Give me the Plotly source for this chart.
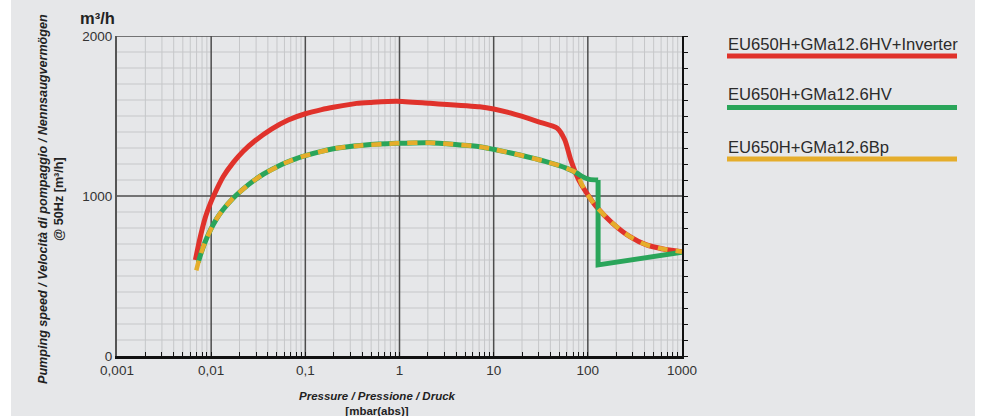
import plotly.graph_objects as go

# ---------------- data ----------------
series_names = ["EU650H+GMa12.6HV+Inverter", "EU650H+GMa12.6HV", "EU650H+GMa12.6Bp"]
series_colors = ["#e0322b", "#2aa55a", "#e5ad2b"]

red_p = [0.0068, 0.0076, 0.0086, 0.0099, 0.0106, 0.0134, 0.0172, 0.0219, 0.0292, 0.0437, 0.0658, 0.1,
         0.149, 0.205, 0.35, 0.5, 0.93, 2.1, 7.1, 10, 15, 30, 47, 57, 66, 80, 97, 123, 182, 280, 420,
         630, 1000]
red_v = [600, 735, 860, 960, 1000, 1120, 1210, 1280, 1345, 1418, 1475, 1514,
         1540, 1556, 1579, 1585, 1592, 1579, 1558, 1544, 1519, 1464, 1425, 1350, 1225, 1100, 1019, 933,
         831, 746, 694, 669, 652]

common_p = [0.0076, 0.0086, 0.0099, 0.0114, 0.0134, 0.0172, 0.0238, 0.028, 0.0357, 0.056, 0.0713, 0.1,
            0.205, 0.41, 0.93, 2.1, 7.1, 9.9, 19, 36, 60, 77]
common_v = [621, 711, 791, 857, 916, 988, 1062, 1094, 1136, 1197, 1223, 1252,
            1297, 1317, 1329, 1333, 1308, 1292, 1256, 1215, 1173, 1142]

# green: smooth curve up to the switch point, then a straight drop and a straight line to 1000 mbar
green_curve_p = [0.0073] + common_p + [88, 104, 128.5]
green_curve_v = [585] + common_v + [1121, 1104, 1100]
green_tail_p = [128.5, 128.5, 1000]
green_tail_v = [1100, 569, 648]

yellow_p = [0.00695] + common_p + [85, 97, 123, 182, 280, 420, 630, 1000]
yellow_v = [535] + common_v + [1080, 1019, 933, 831, 746, 694, 669, 652]

x_decades = [0.001, 0.01, 0.1, 1, 10, 100, 1000]
x_labels = ["0,001", "0,01", "0,1", "1", "10", "100", "1000"]
y_major = [0, 1000, 2000]

# ---------------- layout constants ----------------
W, H = 992, 416
L, R, T, B = 117, 682, 36, 356
PW, PH = R - L, B - T
FONT = "Liberation Sans, Arial, sans-serif"
BG = "#e6e7e9"
MINOR = "#c6c7c9"
MAJOR = "#4d4d4d"


def px(xp):
    return (xp - L) / PW


def py(yp):
    return (B - yp) / PH


x_ticks = []
for d in x_decades[:-1]:
    for k in range(1, 10):
        x_ticks.append(round(k * d, 6))
x_ticks.append(x_decades[-1])
x_text = [x_labels[x_decades.index(v)] if v in x_decades else "" for v in x_ticks]

y_ticks = list(range(0, 2001, 100))
y_text = [str(v) if v in y_major else "" for v in y_ticks]

fig = go.Figure()
fig.add_trace(go.Scatter(x=red_p, y=red_v, mode="lines", name=series_names[0],
                         line=dict(color=series_colors[0], width=5, shape="spline", smoothing=0.6)))
fig.add_trace(go.Scatter(x=green_curve_p, y=green_curve_v, mode="lines", name=series_names[1],
                         line=dict(color=series_colors[1], width=5, shape="spline", smoothing=0.5)))
fig.add_trace(go.Scatter(x=green_tail_p, y=green_tail_v, mode="lines", name=series_names[1],
                         line=dict(color=series_colors[1], width=5)))
fig.add_trace(go.Scatter(x=yellow_p, y=yellow_v, mode="lines", name=series_names[2],
                         line=dict(color=series_colors[2], width=4.5, dash="10px,8px",
                                   shape="spline", smoothing=0.6)))
fig.add_trace(go.Scatter(x=[], y=[], yaxis="y2", showlegend=False))

shapes = []
# gray panel background
shapes.append(dict(type="rect", xref="paper", yref="paper", x0=px(11), x1=px(975), y0=py(H + 5), y1=py(-5),
                   fillcolor=BG, line=dict(width=0), layer="below"))
# minor grid lines
for v in x_ticks:
    if v not in x_decades:
        shapes.append(dict(type="line", xref="x", yref="y", x0=v, x1=v, y0=0, y1=2000,
                           line=dict(color=MINOR, width=1), layer="below"))
for v in y_ticks:
    if v not in y_major:
        shapes.append(dict(type="line", xref="x", yref="y", x0=x_decades[0], x1=x_decades[-1], y0=v, y1=v,
                           line=dict(color=MINOR, width=1), layer="below"))
# major grid lines
for d in x_decades[1:-1]:
    shapes.append(dict(type="line", xref="x", yref="y", x0=d, x1=d, y0=0, y1=2000,
                       line=dict(color=MAJOR, width=1.5), layer="below"))
for v in y_major[1:]:
    shapes.append(dict(type="line", xref="x", yref="y", x0=x_decades[0], x1=x_decades[-1], y0=v, y1=v,
                       line=dict(color=MAJOR, width=1.5), layer="below"))

annotations = []
# legend
legend_text_y = [44, 95, 147]
legend_line_y = [56, 107.5, 159]
for name, col, ty, ly in zip(series_names, series_colors, legend_text_y, legend_line_y):
    annotations.append(dict(xref="paper", yref="paper", x=px(726), y=py(ty), xanchor="left", yanchor="middle",
                            text=name, showarrow=False, font=dict(family=FONT, size=16.6, color="#2b2b2b")))
    shapes.append(dict(type="line", xref="paper", yref="paper", x0=px(727), x1=px(957), y0=py(ly), y1=py(ly),
                       line=dict(color=col, width=5)))

annotations.append(dict(xref="paper", yref="paper", x=px(97), y=py(18), xanchor="center", yanchor="middle",
                        text="<b>m³/h</b>", showarrow=False, font=dict(family=FONT, size=16.5, color="#222")))
annotations.append(dict(xref="paper", yref="paper", x=px(51), y=py(199), xanchor="center", yanchor="middle",
                        textangle=-90, showarrow=False,
                        text="<b><i>Pumping speed / Velocità di pompaggio / Nennsaugvermögen</i><br>@ 50Hz [m³/h]</b>",
                        font=dict(family=FONT, size=12.6, color="#222")))
annotations.append(dict(xref="paper", yref="paper", x=px(377), y=py(388), xanchor="center", yanchor="top",
                        showarrow=False,
                        text="<b><i>Pressure / Pressione / Druck</i></b><br><b>[mbar(abs)]</b>",
                        font=dict(family=FONT, size=11.5, color="#222")))

fig.update_layout(
    width=W, height=H,
    margin=dict(l=L, r=W - R, t=T, b=H - B, pad=0),
    paper_bgcolor="white", plot_bgcolor="rgba(0,0,0,0)",
    showlegend=False,
    font=dict(family=FONT, color="#333"),
    xaxis=dict(type="log", range=[-3, 3], tickmode="array", tickvals=x_ticks, ticktext=x_text,
               showgrid=False,
               ticks="inside", ticklen=4, tickcolor="#111", tickwidth=1,
               showline=True, linecolor="#111", linewidth=3,
               tickfont=dict(family=FONT, size=13.5, color="#333"), zeroline=False),
    yaxis=dict(range=[0, 2000], tickmode="array", tickvals=y_ticks, ticktext=y_text,
               showgrid=False, ticks="",
               showline=True, linecolor="#555", linewidth=2, zeroline=False,
               tickfont=dict(family=FONT, size=13.5, color="#333")),
    yaxis2=dict(range=[0, 2000], overlaying="y", side="right", tickmode="array", tickvals=y_ticks,
                showticklabels=False, ticks="outside", ticklen=4, tickcolor="#111",
                showgrid=False, showline=True, linecolor="#111", linewidth=2, zeroline=False),
    shapes=shapes,
    annotations=annotations,
)

fig.write_html("out.html")
